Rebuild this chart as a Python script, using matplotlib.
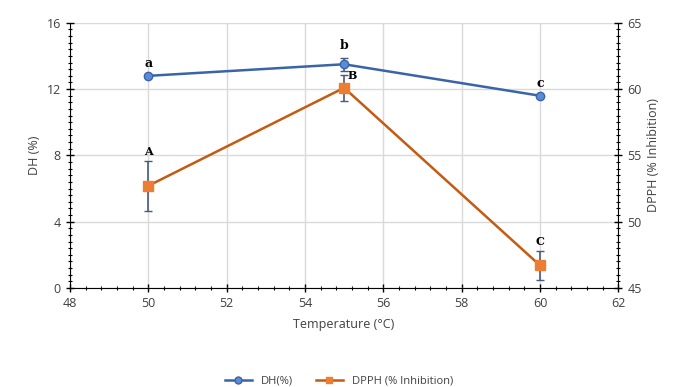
import matplotlib

matplotlib.use("Agg")

import matplotlib.pyplot as plt
from matplotlib.lines import Line2D
from matplotlib.ticker import MultipleLocator

temperature = [50, 55, 60]
dh_values = [12.8, 13.5, 11.6]
dh_errors = [0.0, 0.4, 0.0]
dh_letters = ["a", "b", "c"]
dpph_values = [52.7, 60.1, 46.7]
dpph_errors = [1.9, 1.0, 1.1]
dpph_letters = ["A", "B", "C"]

BLUE_DARK = "#3A64A8"
BLUE_FILL = "#5B8BD6"
ORANGE = "#ED7D31"
ORANGE_LINE = "#C55A11"
ERR = "#4A5A78"

plt.rcParams["font.family"] = ["Open Sans", "DejaVu Sans"]

fig, ax = plt.subplots(figsize=(6.78, 3.87), dpi=100)
fig.subplots_adjust(left=0.103, right=0.912, top=0.941, bottom=0.256)
ax2 = ax.twinx()

ax.set_xlim(48, 62)
ax.set_ylim(0, 16)
ax2.set_ylim(45, 65)

ax.xaxis.set_major_locator(MultipleLocator(2))
ax.xaxis.set_minor_locator(MultipleLocator(0.4))
ax.yaxis.set_major_locator(MultipleLocator(4))
ax.yaxis.set_minor_locator(MultipleLocator(0.4))
ax2.yaxis.set_major_locator(MultipleLocator(5))
ax2.yaxis.set_minor_locator(MultipleLocator(0.5))

ax.grid(True, which="major", color="#d9d9d9", linewidth=1)
ax.set_axisbelow(True)

for a in (ax, ax2):
    a.spines["top"].set_visible(False)
    a.tick_params(which="major", direction="inout", length=6, width=1,
                  labelsize=9, labelcolor="#404040")
    a.tick_params(which="minor", direction="inout", length=3, width=0.8)
ax.spines["right"].set_visible(False)
ax2.spines["left"].set_visible(False)
ax2.spines["bottom"].set_visible(False)

ax.errorbar(temperature, dh_values, yerr=dh_errors, color=BLUE_DARK,
            ecolor=ERR, elinewidth=1.2, capsize=3, linewidth=1.8,
            marker="o", markersize=6, markerfacecolor=BLUE_FILL,
            markeredgecolor=BLUE_DARK, zorder=3)
ax2.errorbar(temperature, dpph_values, yerr=dpph_errors, color=ORANGE_LINE,
             ecolor=ERR, elinewidth=1.2, capsize=3, linewidth=1.8,
             marker="s", markersize=7, markerfacecolor=ORANGE,
             markeredgecolor=ORANGE, zorder=3)

for x, y, err, t in zip(temperature, dh_values, dh_errors, dh_letters):
    ax.annotate(t, (x, y + err), xytext=(0, 4),
                textcoords="offset points", ha="center", va="bottom",
                family="DejaVu Serif", fontweight="bold", fontsize=9)

for x, y, err, t in zip(temperature, dpph_values, dpph_errors, dpph_letters):
    if t == "B":
        ax2.annotate(t, (x, y), xytext=(6, 5), textcoords="offset points",
                     ha="center", va="bottom", family="DejaVu Serif",
                     fontweight="bold", fontsize=8)
    else:
        ax2.annotate(t, (x, y + err), xytext=(0, 3),
                     textcoords="offset points", ha="center", va="bottom",
                     family="DejaVu Serif", fontweight="bold", fontsize=8)

ax.set_xlabel("Temperature (°C)", fontsize=9, color="#404040", labelpad=6)
ax.set_ylabel("DH (%)", fontsize=9, color="#404040")
ax2.set_ylabel("DPPH (% Inhibition)", fontsize=9, color="#404040")

handles = [
    Line2D([], [], color=BLUE_DARK, linewidth=1.8, marker="o", markersize=5,
           markerfacecolor=BLUE_FILL, markeredgecolor=BLUE_DARK),
    Line2D([], [], color=ORANGE_LINE, linewidth=1.8, marker="s", markersize=5,
           markerfacecolor=ORANGE, markeredgecolor=ORANGE),
]
fig.legend(handles, ["DH(%)", "DPPH (% Inhibition)"], loc="lower center",
           ncol=2, frameon=False, fontsize=8, bbox_to_anchor=(0.5, -0.025),
           handlelength=2.5, columnspacing=2.0, labelcolor="#404040")

fig.savefig("out.png", dpi=100)
